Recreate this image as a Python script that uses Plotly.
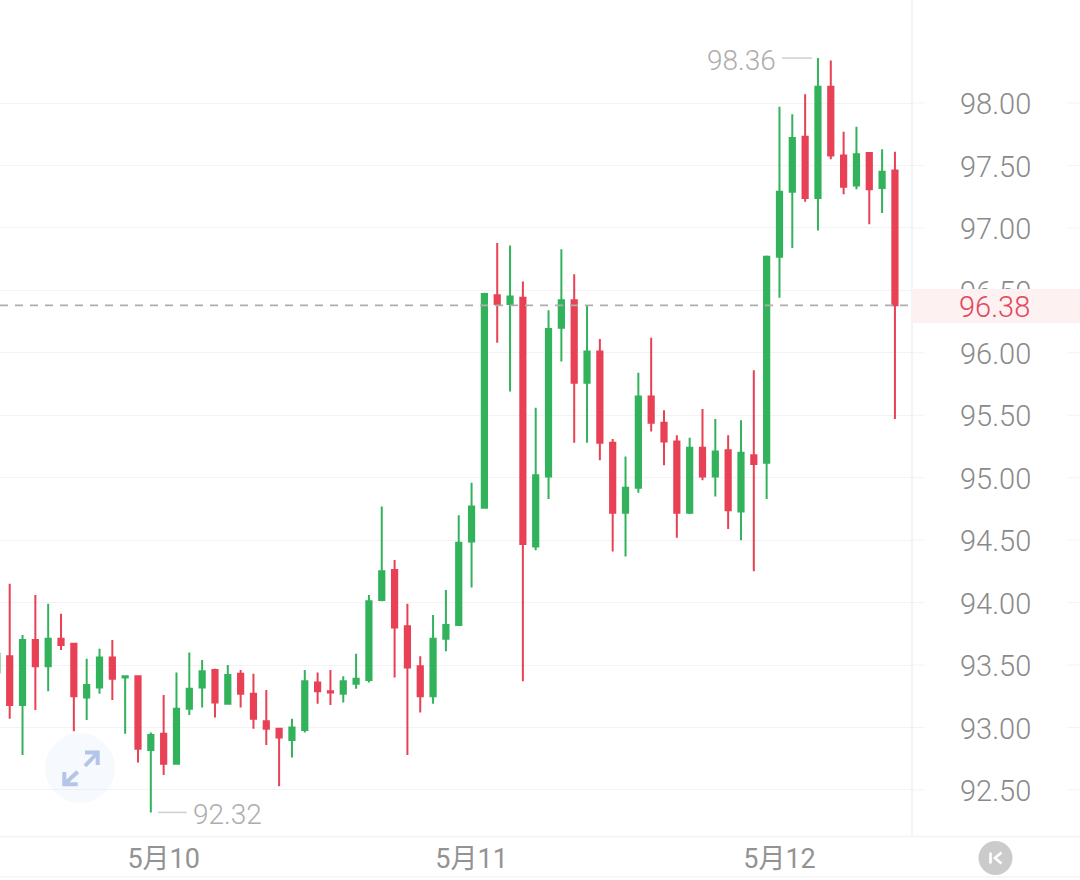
import pandas as pd
import plotly.graph_objects as go

# hourly candles, first one partly off the left edge
start_time = "2024-05-09 11:00"
opens = [93.44,
    93.57, 93.18, 93.70, 93.49, 93.71, 93.67, 93.24, 93.32, 93.56, 93.40,
    93.41, 92.82, 92.95, 92.71, 93.15, 93.32, 93.46, 93.19, 93.43, 93.27,
    93.05, 92.99, 92.90, 92.98, 93.36, 93.29, 93.27, 93.35, 93.38, 94.02,
    94.26, 93.81, 93.49, 93.25, 93.71, 93.82, 94.49, 94.76, 96.46, 96.39,
    96.44, 94.45, 95.01, 96.20, 96.42, 95.76, 96.01, 95.28, 94.72, 94.92,
    95.65, 95.44, 95.29, 94.72, 95.24, 95.01, 95.22, 94.73, 95.18, 95.12,
    96.77, 97.29, 97.73, 97.24, 98.13, 97.58, 97.34, 97.60, 97.32, 97.46]
closes = [93.59,
    93.18, 93.70, 93.49, 93.71, 93.66, 93.25, 93.34, 93.56, 93.39, 93.41,
    92.83, 92.94, 92.71, 93.15, 93.31, 93.45, 93.20, 93.42, 93.27, 93.07,
    92.99, 92.92, 93.00, 93.37, 93.29, 93.28, 93.37, 93.39, 94.01, 94.25,
    93.80, 93.48, 93.25, 93.71, 93.82, 94.48, 94.77, 96.47, 96.39, 96.45,
    94.47, 95.02, 96.19, 96.42, 95.76, 96.01, 95.28, 94.72, 94.92, 95.65,
    95.44, 95.29, 94.72, 95.24, 95.01, 95.21, 94.74, 95.20, 95.11, 96.77,
    97.29, 97.72, 97.24, 98.13, 97.58, 97.33, 97.59, 97.31, 97.45, 96.38]
highs = [93.59,
    94.15, 93.74, 94.06, 93.99, 93.91, 93.67, 93.55, 93.63, 93.70, 93.41,
    93.41, 92.96, 93.26, 93.44, 93.60, 93.54, 93.47, 93.50, 93.46, 93.43,
    93.30, 92.99, 93.07, 93.46, 93.44, 93.46, 93.41, 93.59, 94.06, 94.77,
    94.34, 93.99, 93.57, 93.90, 94.10, 94.70, 94.96, 96.48, 96.88, 96.86,
    96.57, 95.56, 96.34, 96.83, 96.63, 96.38, 96.11, 95.31, 95.17, 95.84,
    96.12, 95.54, 95.34, 95.32, 95.55, 95.47, 95.34, 95.46, 95.86, 96.78,
    97.97, 97.91, 98.07, 98.36, 98.34, 97.77, 97.81, 97.60, 97.63, 97.61]
lows = [93.44,
    93.07, 92.78, 93.14, 93.29, 93.62, 92.97, 93.06, 93.27, 93.22, 92.95,
    92.72, 92.32, 92.62, 92.71, 93.10, 93.16, 93.08, 93.19, 93.16, 92.99,
    92.86, 92.53, 92.76, 92.96, 93.19, 93.18, 93.20, 93.31, 93.36, 94.01,
    93.40, 92.78, 93.12, 93.19, 93.61, 93.82, 94.12, 94.76, 96.08, 95.69,
    93.37, 94.42, 94.83, 95.93, 95.28, 95.28, 95.14, 94.41, 94.37, 94.88,
    95.37, 95.10, 94.52, 94.71, 94.98, 94.85, 94.59, 94.50, 94.25, 94.83,
    96.44, 96.84, 97.21, 96.98, 97.55, 97.27, 97.31, 97.03, 97.12, 95.47]

y_ticks = [92.5, 93.0, 93.5, 94.0, 94.5, 95.0, 95.5, 96.0, 96.5, 97.0, 97.5, 98.0]
x_tick_times = ["2024-05-10 00:00", "2024-05-11 00:00", "2024-05-12 00:00"]
x_tick_labels = ["5月10", "5月11", "5月12"]
last_price = 96.38

GREEN = "#33b25c"
RED = "#e84155"
GRID = "#f3f3f3"
AXIS_TEXT = "#8a8a8a"
X_TEXT = "#939393"
NOTE_TEXT = "#adadad"
FONT = "Roboto, 'Noto Sans CJK SC', sans-serif"
W, H, PLOT_W, PLOT_H = 1080, 880, 912, 836


def px(x):
    return x / W


def py(y):
    return (H - y) / H


times = pd.date_range(start_time, periods=len(opens), freq="h")
hour = pd.Timedelta(hours=1)
high_i = highs.index(max(highs))
low_i = lows.index(min(lows))

fig = go.Figure(go.Candlestick(
    x=times, open=opens, high=highs, low=lows, close=closes,
    whiskerwidth=0,
    increasing=dict(line=dict(color=GREEN, width=2), fillcolor=GREEN),
    decreasing=dict(line=dict(color=RED, width=2), fillcolor=RED),
    hoverinfo="skip",
))

shapes = []
# grid ends to the right of the price labels
for t in y_ticks:
    for a, b in ((912, 925), (1067, 1080)):
        shapes.append(dict(type="line", xref="paper", yref="y", x0=px(a), x1=px(b),
                           y0=t, y1=t, line=dict(color=GRID, width=1), layer="below"))
# frame lines
shapes += [
    dict(type="line", xref="paper", yref="paper", x0=px(912), x1=px(912), y0=py(0), y1=py(836),
         line=dict(color="#f1f1f1", width=1.5)),
    dict(type="line", xref="paper", yref="paper", x0=px(0), x1=px(1080), y0=py(836.5), y1=py(836.5),
         line=dict(color="#f3f3f3", width=1.5)),
    dict(type="line", xref="paper", yref="paper", x0=px(0), x1=px(1080), y0=py(877), y1=py(877),
         line=dict(color="#f5f5f5", width=1.5)),
]
# last price line and band
shapes += [
    dict(type="line", xref="paper", yref="y", x0=px(0), x1=px(910), y0=last_price, y1=last_price,
         line=dict(color="#aeaeae", width=1.8, dash="8px,7px")),
    dict(type="rect", xref="paper", yref="paper", x0=px(912), x1=px(1080), y0=py(323), y1=py(289),
         fillcolor="#fef1f1", line=dict(width=0), layer="above"),
]
# leaders of the high and low notes
shapes += [
    dict(type="line", xref="x", yref="y", xsizemode="pixel", xanchor=times[high_i], x0=-36, x1=-6,
         y0=highs[high_i], y1=highs[high_i], line=dict(color="#cfcfcf", width=1.5)),
    dict(type="line", xref="x", yref="y", xsizemode="pixel", xanchor=times[low_i], x0=7, x1=36,
         y0=lows[low_i], y1=lows[low_i], line=dict(color="#cfcfcf", width=1.5)),
]
# zoom button
shapes.append(dict(type="circle", xref="paper", yref="paper", x0=px(45), x1=px(115), y0=py(803), y1=py(733),
                   fillcolor="rgba(225,235,250,0.3)", line=dict(width=0)))
ARROWS = [
    [(85, 752.5), (97.7, 752.5), (97.7, 765)],
    [(97.7, 752.5), (85, 766)],
    [(64.3, 772), (64.3, 784.3), (77.7, 784.3)],
    [(64.3, 784.3), (77.7, 771.7)],
]
for pts in ARROWS:
    path = "M " + " L ".join(f"{px(a):.5f} {py(b):.5f}" for a, b in pts)
    shapes.append(dict(type="path", xref="paper", yref="paper", path=path,
                       line=dict(color="#b3c5e8", width=4)))
# jump-to-latest button
shapes.append(dict(type="circle", xref="paper", yref="paper", x0=px(978.5), x1=px(1012.5), y0=py(875), y1=py(841),
                   fillcolor="#cbcbcb", line=dict(width=0)))
for pts in ([(990.5, 852.5), (990.5, 863.5)], [(1001.5, 852.5), (995, 858), (1001.5, 863.5)]):
    path = "M " + " L ".join(f"{px(a):.5f} {py(b):.5f}" for a, b in pts)
    shapes.append(dict(type="path", xref="paper", yref="paper", path=path,
                       line=dict(color="white", width=2.6)))

annotations = [
    dict(xref="x", yref="y", x=times[high_i], y=highs[high_i], xanchor="right", yanchor="middle",
         xshift=-40, yshift=-2, text=f"{highs[high_i]:.2f}", showarrow=False,
         font=dict(family=FONT, size=28, color=NOTE_TEXT, weight=300)),
    dict(xref="x", yref="y", x=times[low_i], y=lows[low_i], xanchor="left", yanchor="middle",
         xshift=40, yshift=-2, text=f"{lows[low_i]:.2f}", showarrow=False,
         font=dict(family=FONT, size=28, color=NOTE_TEXT, weight=300)),
    dict(xref="paper", yref="y", x=px(957), y=last_price, xanchor="left", yanchor="middle",
         yshift=-2, text=f"{last_price:.2f}", showarrow=False,
         font=dict(family=FONT, size=29, color="#e2475c", weight=300)),
]

fig.update_layout(
    width=W, height=H, margin=dict(l=0, r=0, t=0, b=0, pad=0),
    paper_bgcolor="white", plot_bgcolor="white", showlegend=False,
    shapes=shapes, annotations=annotations, boxgap=0.42,
    xaxis=dict(
        domain=[0, PLOT_W / W], type="date", rangeslider=dict(visible=False),
        range=[times[1] - 0.756 * hour, times[1] + 70.33 * hour],
        tickmode="array", tickvals=x_tick_times, ticktext=x_tick_labels,
        ticks="", showgrid=False, zeroline=False, showline=False,
        ticklabelstandoff=4,
        tickfont=dict(family=FONT, size=27, color=X_TEXT),
    ),
    yaxis=dict(
        domain=[1 - PLOT_H / H, 1], side="right", range=[92.131, 98.825],
        tickmode="array", tickvals=y_ticks, ticktext=[f"{t:.2f}" for t in y_ticks],
        ticks="", showgrid=True, gridcolor=GRID, gridwidth=1,
        zeroline=False, showline=False, ticklabelstandoff=47, ticklabelshift=1,
        tickfont=dict(family=FONT, size=29, color=AXIS_TEXT, weight=300),
    ),
)

fig.write_html("out.html", config=dict(displayModeBar=False),
               post_script="document.body.style.margin='0';document.body.style.overflow='hidden';")
